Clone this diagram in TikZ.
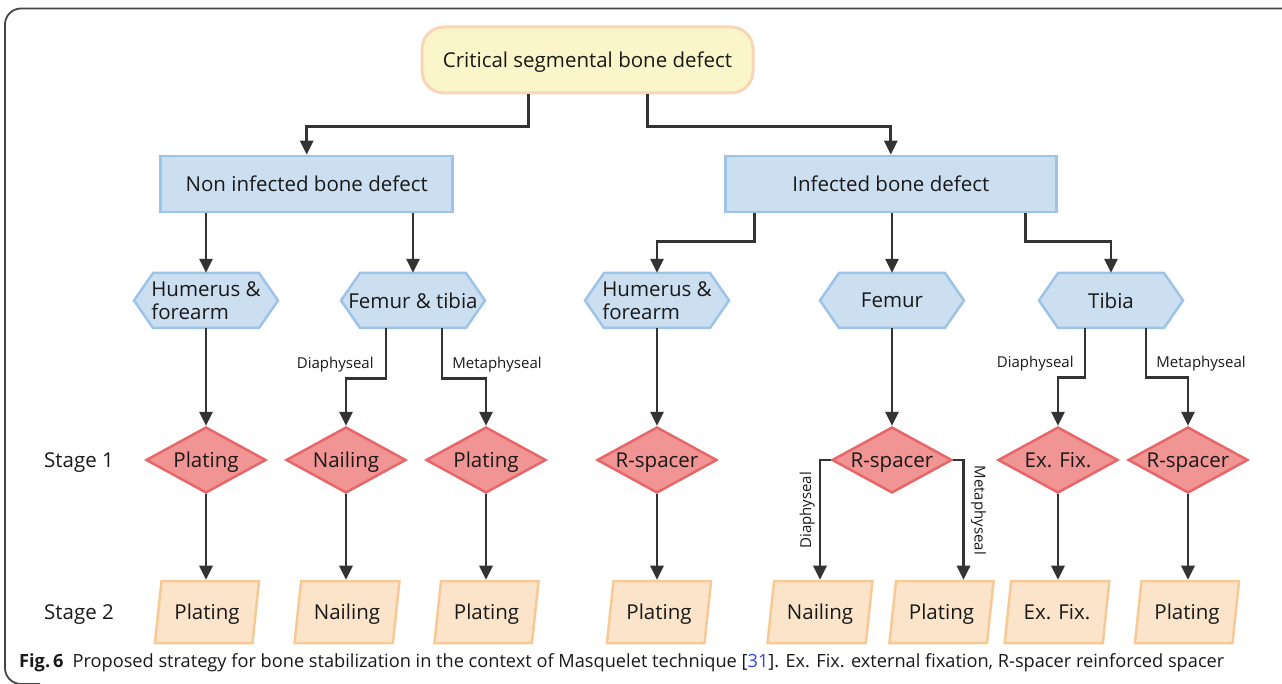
\documentclass[tikz,border=0pt]{standalone}
\usepackage{fontspec}
\setmainfont{Open Sans}
\usetikzlibrary{arrows.meta,shapes.geometric,calc}
\definecolor{linecol}{HTML}{333333}
\definecolor{framecol}{HTML}{444444}
\definecolor{topfill}{HTML}{FAF6CA}
\definecolor{topdraw}{HTML}{F9D6B8}
\definecolor{bluefill}{HTML}{CCDFF1}
\definecolor{bluedraw}{HTML}{9DC3E6}
\definecolor{redfill}{HTML}{F09494}
\definecolor{reddraw}{HTML}{E8666A}
\definecolor{orfill}{HTML}{FCE4CB}
\definecolor{ordraw}{HTML}{F7C995}
\definecolor{capblue}{HTML}{3344EE}
\newcommand\hexat[4]{%
  \filldraw[hexshape] ({#2-72},#3) -- ({#2-53},{#3-27.5}) -- ({#2+53},{#3-27.5}) -- ({#2+72},#3) -- ({#2+53},{#3+27.5}) -- ({#2-53},{#3+27.5}) -- cycle;
  \node[hextext] (#1) at (#2,#3) {#4};}
\begin{document}
\begin{tikzpicture}[x=1pt,y=-1pt,
  every node/.style={font=\fontsize{20.5pt}{23pt}\selectfont, text=black!90},
  oneline/.style={text height=14.6pt, text depth=0pt},
  topbox/.style={oneline, draw=topdraw, fill=topfill, line width=3pt, rounded corners=22pt, minimum width=331pt, minimum height=66pt, inner sep=0pt},
  bluebox/.style={oneline, draw=bluedraw, fill=bluefill, line width=2.5pt, minimum height=56pt, inner sep=0pt},
  hexshape/.style={draw=bluedraw, fill=bluefill, line width=2.5pt, line join=miter},
  hextext/.style={minimum width=144pt, minimum height=55pt, inner sep=0pt, align=left},
  dia/.style={oneline, diamond, aspect=1.8, draw=reddraw, fill=redfill, line width=2.5pt, minimum width=120pt, minimum height=66pt, inner sep=0pt},
  para/.style={oneline, trapezium, trapezium left angle=72, trapezium right angle=108, trapezium stretches=true, draw=ordraw, fill=orfill, line width=2.5pt, minimum width=105pt, minimum height=62pt, inner sep=0pt},
  conn/.style={draw=linecol, line width=2.8pt, -{Triangle[length=14pt,width=13pt]}},
  lab/.style={font=\fontsize{15pt}{17pt}\selectfont, inner sep=0pt},
  stage/.style={oneline, font=\fontsize{20.5pt}{23pt}\selectfont}
]
\useasboundingbox (0,0) rectangle (1282,684);
\draw[framecol, line width=1.8pt, rounded corners=16pt] (1290,8.5) -- (5,8.5) -- (5,684) -- (40,684);

% top levels
\node[topbox] (top) at (587.5,60) {Critical segmental bone defect};
\node[bluebox, minimum width=292pt] (noninf) at (306.7,184) {Non infected bone defect};
\node[bluebox, minimum width=331pt] (inf) at (890.8,184) {Infected bone defect};

% hexagons
\hexat{hum1}{206}{300.5}{Humerus \&\\forearm}
\hexat{ft}{413}{300.5}{Femur \& tibia}
\hexat{hum2}{657}{300.5}{Humerus \&\\forearm}
\hexat{fem}{892}{300.5}{Femur}
\hexat{tib}{1111}{300.5}{Tibia}

% diamonds (stage 1)
\node[dia] (d1) at (206,460) {Plating};
\node[dia] (d2) at (346,460) {Nailing};
\node[dia] (d3) at (486,460) {Plating};
\node[dia] (d4) at (657,460) {R-spacer};
\node[dia] (d5) at (892,460) {R-spacer};
\node[dia] (d6) at (1058,460) {Ex. Fix.};
\node[dia] (d7) at (1188,460) {R-spacer};

% parallelograms (stage 2)
\node[para] (p1) at (207,612) {Plating};
\node[para] (p2) at (347,612) {Nailing};
\node[para] (p3) at (486.5,612) {Plating};
\node[para] (p4) at (659,612) {Plating};
\node[para] (p5) at (820,612) {Nailing};
\node[para] (p6) at (941.5,612) {Plating};
\node[para] (p7) at (1057,612) {Ex. Fix.};
\node[para] (p8) at (1187,612) {Plating};

% stage labels
\node[stage] (s1) at (79,460) {Stage 1};
\node[stage] (s2) at (79,612) {Stage 2};

% connectors
\draw[conn] ([xshift=-59pt]top.south) -- ++(0,32) -| (noninf.north);
\draw[conn] ([xshift=60pt]top.south) -- ++(0,32) -| (inf.north);
\draw[conn] (noninf.south -| hum1.north) -- (hum1.north);
\draw[conn] (noninf.south -| ft.north) -- (ft.north);
\draw[conn] ([xshift=-136pt]inf.south) -- ++(0,28) -| (hum2.north);
\draw[conn] (inf.south -| fem.north) -- (fem.north);
\draw[conn] ([xshift=135pt]inf.south) -- ++(0,28) -| (tib.north);

\draw[conn] (hum1.south) -- (d1.north);
\draw[conn] ([xshift=-27pt]ft.south) -- node[lab, left=11pt, pos=0.72] (l1) {Diaphyseal} ++(0,50) -| (d2.north);
\draw[conn] ([xshift=29pt]ft.south) -- node[lab, right=9pt, pos=0.72] (l2) {Metaphyseal} ++(0,50) -| (d3.north);
\draw[conn] (hum2.south) -- (d4.north);
\draw[conn] (fem.south) -- (d5.north);
\draw[conn] ([xshift=-26pt]tib.south) -- node[lab, left=10pt, pos=0.72] (l3) {Diaphyseal} ++(0,49) -| (d6.north);
\draw[conn] ([xshift=35pt]tib.south) -- node[lab, right=9pt, pos=0.72] (l4) {Metaphyseal} ++(0,49) -| (d7.north);

\draw[conn] (d1.south) -- (d1.south |- p1.north);
\draw[conn] (d2.south) -- (d2.south |- p2.north);
\draw[conn] (d3.south) -- (d3.south |- p3.north);
\draw[conn] (d4.south) -- (d4.south |- p4.north);
\draw[conn] (d5.west) -| node[lab, rotate=90, anchor=south, inner sep=4pt, pos=0.71] (l5) {Diaphyseal} (p5.north);
\draw[conn] (d5.east) -| node[lab, rotate=-90, anchor=south, inner sep=6pt, pos=0.71] (l6) {Metaphyseal} ([xshift=22pt]p6.north);
\draw[conn] (d6.south) -- (d6.south |- p7.north);
\draw[conn] (d7.south) -- (d7.south |- p8.north);

% caption
\node[anchor=base west, inner sep=0pt, font=\fontsize{18.2pt}{21pt}\selectfont] (cap) at (19,667)
  {\textbf{Fig.\,6}\hspace{9pt}Proposed strategy for bone stabilization in the context of Masquelet technique [\textcolor{capblue}{31}]. Ex. Fix. external fixation, R-spacer reinforced spacer};
\end{tikzpicture}
\end{document}
